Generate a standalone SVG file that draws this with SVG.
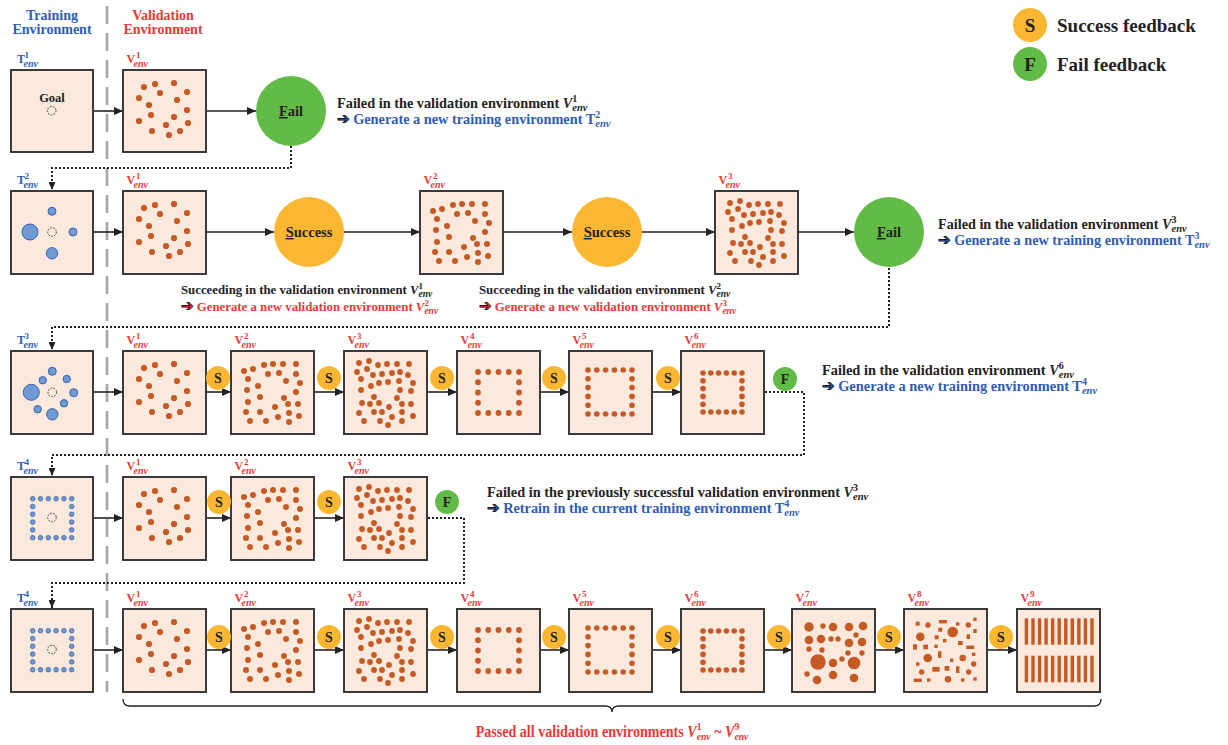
<svg xmlns="http://www.w3.org/2000/svg" width="1228" height="745" viewBox="0 0 1228 745">
<style>
text{font-family:"Liberation Serif","Times New Roman",serif;font-weight:bold}
.box{fill:#FCE9DD;stroke:#3A3A3A;stroke-width:2}
.tl{fill:#2E5CB4;font-size:12px}
.vl{fill:#E83A3A;font-size:12px}
.sp{font-size:9px;font-style:normal}
.sb{font-size:10px;font-style:italic}
.blk{fill:#222}
.blu{fill:#2E5CB4}
.red{fill:#E83A3A}
.ar{stroke:#222;stroke-width:1.6;fill:none;marker-end:url(#ah)}
.dt{stroke:#222;stroke-width:2;fill:none;stroke-dasharray:2,2;marker-end:url(#ah2)}
.goal{fill:none;stroke:#333;stroke-width:1;stroke-dasharray:1.6,1.4}
.bc{fill:#6F9AD6;stroke:#3A62A6;stroke-width:1}
.sc{fill:#FBB731}
.fc{fill:#62BB47}
.ct{font-size:14.5px;fill:#222;text-anchor:middle}
.st{font-size:14px;fill:#222;text-anchor:middle}
.sym{font-family:"DejaVu Sans",sans-serif;font-weight:bold;font-size:15px;stroke:currentColor;stroke-width:0.7}
</style>
<defs>
<marker id="ah" markerUnits="userSpaceOnUse" markerWidth="9" markerHeight="8" refX="9" refY="4" orient="auto"><path d="M0,0L9,4L0,8z" fill="#222"/></marker>
<marker id="ah2" markerUnits="userSpaceOnUse" markerWidth="8" markerHeight="7" refX="8" refY="3.5" orient="auto"><path d="M0,0L8,3.5L0,7z" fill="#222"/></marker>
<g id="p1" fill="#C55A24">
<circle cx="21" cy="17" r="3.1"/><circle cx="32" cy="14" r="3.1"/><circle cx="51" cy="13" r="3.1"/><circle cx="37" cy="23" r="3.1"/><circle cx="64" cy="22" r="3.1"/><circle cx="16" cy="28" r="3.1"/><circle cx="54" cy="30" r="3.1"/><circle cx="26" cy="35" r="3.1"/><circle cx="64" cy="40" r="3.1"/><circle cx="28" cy="45" r="3.1"/><circle cx="51" cy="47" r="3.1"/><circle cx="16" cy="51" r="3.1"/><circle cx="43" cy="55" r="3.1"/><circle cx="65" cy="53" r="3.1"/><circle cx="29" cy="61" r="3.1"/><circle cx="57" cy="61" r="3.1"/><circle cx="46" cy="65" r="3.1"/>
</g>
<g id="p2" fill="#C55A24">
<circle cx="13" cy="20" r="3"/><circle cx="22" cy="18" r="3"/><circle cx="33" cy="14" r="3"/><circle cx="42" cy="13" r="3"/><circle cx="52" cy="13" r="3"/><circle cx="65" cy="13" r="3"/><circle cx="17" cy="28" r="3"/><circle cx="37" cy="23" r="3"/><circle cx="48" cy="22" r="3"/><circle cx="65" cy="23" r="3"/><circle cx="55" cy="30" r="3"/><circle cx="69" cy="32" r="3"/><circle cx="27" cy="35" r="3"/><circle cx="16" cy="39" r="3"/><circle cx="65" cy="41" r="3"/><circle cx="29" cy="46" r="3"/><circle cx="53" cy="47" r="3"/><circle cx="17" cy="51" r="3"/><circle cx="57" cy="53" r="3"/><circle cx="67" cy="53" r="3"/><circle cx="44" cy="56" r="3"/><circle cx="15" cy="61" r="3"/><circle cx="29" cy="61" r="3"/><circle cx="58" cy="62" r="3"/><circle cx="68" cy="65" r="3"/><circle cx="19" cy="70" r="3"/><circle cx="35" cy="70" r="3"/><circle cx="47" cy="66" r="3"/><circle cx="58" cy="71" r="3"/>
</g>
<g id="p3" fill="#C55A24">
<circle cx="15" cy="12" r="2.9"/><circle cx="25" cy="10" r="2.9"/><circle cx="34" cy="14" r="2.9"/><circle cx="43" cy="13" r="2.9"/><circle cx="53" cy="13" r="2.9"/><circle cx="65" cy="13" r="2.9"/><circle cx="13" cy="21" r="2.9"/><circle cx="23" cy="18" r="2.9"/><circle cx="29" cy="24" r="2.9"/><circle cx="38" cy="23" r="2.9"/><circle cx="48" cy="22" r="2.9"/><circle cx="56" cy="21" r="2.9"/><circle cx="64" cy="24" r="2.9"/><circle cx="17" cy="28" r="2.9"/><circle cx="35" cy="32" r="2.9"/><circle cx="44" cy="31" r="2.9"/><circle cx="55" cy="30" r="2.9"/><circle cx="69" cy="32" r="2.9"/><circle cx="27" cy="35" r="2.9"/><circle cx="17" cy="39" r="2.9"/><circle cx="56" cy="39" r="2.9"/><circle cx="67" cy="40" r="2.9"/><circle cx="30" cy="46" r="2.9"/><circle cx="53" cy="47" r="2.9"/><circle cx="18" cy="52" r="2.9"/><circle cx="26" cy="53" r="2.9"/><circle cx="35" cy="52" r="2.9"/><circle cx="45" cy="56" r="2.9"/><circle cx="58" cy="53" r="2.9"/><circle cx="67" cy="53" r="2.9"/><circle cx="15" cy="62" r="2.9"/><circle cx="30" cy="61" r="2.9"/><circle cx="38" cy="61" r="2.9"/><circle cx="48" cy="66" r="2.9"/><circle cx="58" cy="61" r="2.9"/><circle cx="69" cy="65" r="2.9"/><circle cx="20" cy="70" r="2.9"/><circle cx="36" cy="70" r="2.9"/><circle cx="44" cy="74" r="2.9"/><circle cx="58" cy="70" r="2.9"/>
</g>
<g id="p4" fill="#C55A24">
<circle cx="21" cy="21" r="2.9"/><circle cx="31.25" cy="21" r="2.9"/><circle cx="41.5" cy="21" r="2.9"/><circle cx="51.75" cy="21" r="2.9"/><circle cx="62" cy="21" r="2.9"/>
<circle cx="21" cy="62" r="2.9"/><circle cx="31.25" cy="62" r="2.9"/><circle cx="41.5" cy="62" r="2.9"/><circle cx="51.75" cy="62" r="2.9"/><circle cx="62" cy="62" r="2.9"/>
<circle cx="21" cy="31.25" r="2.9"/><circle cx="21" cy="41.5" r="2.9"/><circle cx="21" cy="51.75" r="2.9"/>
<circle cx="62" cy="31.25" r="2.9"/><circle cx="62" cy="41.5" r="2.9"/><circle cx="62" cy="51.75" r="2.9"/>
</g>
<g id="p5" fill="#C55A24">
<circle cx="19" cy="19" r="2.8"/><circle cx="27.8" cy="19" r="2.8"/><circle cx="36.6" cy="19" r="2.8"/><circle cx="45.4" cy="19" r="2.8"/><circle cx="54.2" cy="19" r="2.8"/><circle cx="63" cy="19" r="2.8"/>
<circle cx="19" cy="63" r="2.8"/><circle cx="27.8" cy="63" r="2.8"/><circle cx="36.6" cy="63" r="2.8"/><circle cx="45.4" cy="63" r="2.8"/><circle cx="54.2" cy="63" r="2.8"/><circle cx="63" cy="63" r="2.8"/>
<circle cx="19" cy="27.8" r="2.8"/><circle cx="19" cy="36.6" r="2.8"/><circle cx="19" cy="45.4" r="2.8"/><circle cx="19" cy="54.2" r="2.8"/>
<circle cx="63" cy="27.8" r="2.8"/><circle cx="63" cy="36.6" r="2.8"/><circle cx="63" cy="45.4" r="2.8"/><circle cx="63" cy="54.2" r="2.8"/>
</g>
<g id="p6" fill="#C55A24">
<circle cx="22" cy="22" r="2.8"/><circle cx="29.8" cy="22" r="2.8"/><circle cx="37.6" cy="22" r="2.8"/><circle cx="45.4" cy="22" r="2.8"/><circle cx="53.2" cy="22" r="2.8"/><circle cx="61" cy="22" r="2.8"/>
<circle cx="22" cy="61" r="2.8"/><circle cx="29.8" cy="61" r="2.8"/><circle cx="37.6" cy="61" r="2.8"/><circle cx="45.4" cy="61" r="2.8"/><circle cx="53.2" cy="61" r="2.8"/><circle cx="61" cy="61" r="2.8"/>
<circle cx="22" cy="29.8" r="2.8"/><circle cx="22" cy="37.6" r="2.8"/><circle cx="22" cy="45.4" r="2.8"/><circle cx="22" cy="53.2" r="2.8"/>
<circle cx="61" cy="29.8" r="2.8"/><circle cx="61" cy="37.6" r="2.8"/><circle cx="61" cy="45.4" r="2.8"/><circle cx="61" cy="53.2" r="2.8"/>
</g>
<g id="p7" fill="#C55A24">
<circle cx="17" cy="18" r="4.7"/><circle cx="31" cy="17" r="2.7"/><circle cx="41" cy="18" r="4.3"/><circle cx="57" cy="18" r="4.3"/><circle cx="71" cy="17" r="4.3"/><circle cx="17" cy="31" r="4.3"/><circle cx="29" cy="30" r="4.3"/><circle cx="39" cy="30" r="2.7"/><circle cx="46" cy="30" r="2.7"/><circle cx="64" cy="26" r="2.7"/><circle cx="57" cy="34" r="4.3"/><circle cx="70" cy="33" r="4.3"/><circle cx="17" cy="40" r="2.7"/><circle cx="30" cy="41" r="2.7"/><circle cx="56" cy="44" r="2.7"/><circle cx="70" cy="44" r="2.7"/><circle cx="50" cy="50" r="2.7"/><circle cx="26" cy="53" r="7.7"/><circle cx="41" cy="54" r="4.3"/><circle cx="62" cy="54" r="6.3"/><circle cx="15" cy="65" r="2.7"/><circle cx="41" cy="66" r="4.3"/><circle cx="62" cy="69" r="4.3"/><circle cx="25" cy="71" r="4.3"/>
</g>
<g id="p8" fill="#C55A24">
<rect x="11.7" y="12.7" width="4" height="4"/><circle cx="24" cy="16" r="2.7"/><rect x="35" y="11" width="8" height="3.4"/><rect x="52" y="13.3" width="3.4" height="3.4"/><circle cx="64.3" cy="16" r="2.7"/><rect x="69.3" y="8.6" width="3.4" height="3.4"/>
<circle cx="16.3" cy="27.7" r="4.3"/><rect x="34.3" y="18.7" width="4" height="4"/><circle cx="48.7" cy="23" r="5.3"/><rect x="69.3" y="20" width="3.4" height="4"/><rect x="30.7" y="26.3" width="4" height="4"/><rect x="39" y="30" width="3.4" height="3.4"/><rect x="54" y="32" width="4.7" height="4"/><rect x="62.6" y="25.3" width="3.4" height="4.7"/>
<rect x="9" y="35.3" width="4" height="5.3"/><rect x="19.3" y="35.6" width="4.7" height="4.7"/><rect x="30.3" y="35.6" width="3.4" height="3.4"/><rect x="62.3" y="36.6" width="8" height="3.4"/>
<rect x="34" y="42.3" width="3.4" height="6.7"/><circle cx="23.7" cy="49" r="4.3"/><rect x="46" y="49.6" width="3.4" height="3.4"/><circle cx="58.7" cy="49" r="3.3"/><rect x="68" y="43.6" width="3.4" height="3.4"/>
<rect x="12" y="53.3" width="3.4" height="3.4"/><circle cx="69.7" cy="55" r="2.7"/><rect x="28.3" y="58" width="7.3" height="4.7"/><rect x="40.6" y="57" width="4.7" height="4.7"/><rect x="52" y="57.3" width="3.4" height="6.7"/><circle cx="17.7" cy="63" r="2.7"/><circle cx="64.7" cy="63" r="2.7"/>
<rect x="9.7" y="69.6" width="8" height="3.4"/><rect x="23" y="69.3" width="3.4" height="3.4"/><circle cx="44" cy="70.3" r="3.3"/><rect x="57" y="69.3" width="3.4" height="3.4"/><rect x="69.3" y="68.3" width="3.4" height="3.4"/>
</g>
<g id="p9" fill="#C55A24">
<rect x="7.7" y="9.3" width="3.4" height="26.4"/><rect x="14.26" y="9.3" width="3.4" height="26.4"/><rect x="20.82" y="9.3" width="3.4" height="26.4"/><rect x="27.38" y="9.3" width="3.4" height="26.4"/><rect x="33.94" y="9.3" width="3.4" height="26.4"/><rect x="40.5" y="9.3" width="3.4" height="26.4"/><rect x="47.06" y="9.3" width="3.4" height="26.4"/><rect x="53.62" y="9.3" width="3.4" height="26.4"/><rect x="60.18" y="9.3" width="3.4" height="26.4"/><rect x="66.74" y="9.3" width="3.4" height="26.4"/><rect x="73.3" y="9.3" width="3.4" height="26.4"/>
<rect x="7.7" y="46.7" width="3.4" height="26.6"/><rect x="14.26" y="46.7" width="3.4" height="26.6"/><rect x="20.82" y="46.7" width="3.4" height="26.6"/><rect x="27.38" y="46.7" width="3.4" height="26.6"/><rect x="33.94" y="46.7" width="3.4" height="26.6"/><rect x="40.5" y="46.7" width="3.4" height="26.6"/><rect x="47.06" y="46.7" width="3.4" height="26.6"/><rect x="53.62" y="46.7" width="3.4" height="26.6"/><rect x="60.18" y="46.7" width="3.4" height="26.6"/><rect x="66.74" y="46.7" width="3.4" height="26.6"/><rect x="73.3" y="46.7" width="3.4" height="26.6"/>
</g>
<g id="pT4">
<g class="bc" style="stroke-width:0.8">
<circle cx="21.7" cy="21.7" r="2.3"/><circle cx="29.5" cy="21.7" r="2.3"/><circle cx="37.3" cy="21.7" r="2.3"/><circle cx="45.1" cy="21.7" r="2.3"/><circle cx="52.9" cy="21.7" r="2.3"/><circle cx="60.7" cy="21.7" r="2.3"/>
<circle cx="21.7" cy="60.7" r="2.3"/><circle cx="29.5" cy="60.7" r="2.3"/><circle cx="37.3" cy="60.7" r="2.3"/><circle cx="45.1" cy="60.7" r="2.3"/><circle cx="52.9" cy="60.7" r="2.3"/><circle cx="60.7" cy="60.7" r="2.3"/>
<circle cx="21.7" cy="29.5" r="2.3"/><circle cx="21.7" cy="37.3" r="2.3"/><circle cx="21.7" cy="45.1" r="2.3"/><circle cx="21.7" cy="52.9" r="2.3"/>
<circle cx="60.7" cy="29.5" r="2.3"/><circle cx="60.7" cy="37.3" r="2.3"/><circle cx="60.7" cy="45.1" r="2.3"/><circle cx="60.7" cy="52.9" r="2.3"/>
</g>
<circle class="goal" cx="41" cy="40.5" r="4.3"/>
</g>
</defs>

<rect width="1228" height="745" fill="#FFFFFF"/>

<!-- headers -->
<g id="headers">
<text x="52" y="20" font-size="14" class="blu" text-anchor="middle">Training</text>
<text x="52" y="34" font-size="14" class="blu" text-anchor="middle">Environment</text>
<text x="163" y="20" font-size="14" class="red" text-anchor="middle">Validation</text>
<text x="163" y="34" font-size="14" class="red" text-anchor="middle">Environment</text>
<path d="M107,6V692" stroke="#A6A6A6" stroke-width="2.6" stroke-dasharray="18,9" fill="none"/>
</g>

<!-- legend -->
<g id="legend-success">
<circle class="sc" cx="1030" cy="25" r="17"/>
<text x="1030" y="31.5" font-size="19" class="blk" text-anchor="middle">S</text>
<text x="1057" y="32" font-size="19" class="blk">Success feedback</text>
</g>
<g id="legend-fail">
<circle class="fc" cx="1030" cy="64" r="17"/>
<text x="1030" y="70.5" font-size="19" class="blk" text-anchor="middle">F</text>
<text x="1057" y="71" font-size="19" class="blk">Fail feedback</text>
</g>

<!-- connectors -->
<g id="connectors">
<path class="ar" d="M93,111H123"/>
<path class="ar" d="M206,111H256"/>
<path class="dt" d="M291,146V168H52V190"/>
<path class="ar" d="M93,232H123"/>
<path class="ar" d="M206,232H274"/>
<path class="ar" d="M344,232H420"/>
<path class="ar" d="M503,232H572"/>
<path class="ar" d="M642,232H715"/>
<path class="ar" d="M798,232H854"/>
<path class="dt" d="M889,268V327H52V350"/>
<path class="ar" d="M93,392H123"/>
<path class="ar" d="M206,392H231"/>
<path class="ar" d="M314,392H344"/>
<path class="ar" d="M427,392H457"/>
<path class="ar" d="M540,392H569"/>
<path class="ar" d="M652,392H681"/>
<path class="dt" d="M765,392H804V455H52V476"/>
<path class="ar" d="M93,518H123"/>
<path class="ar" d="M206,518H231"/>
<path class="ar" d="M314,518H344"/>
<path class="dt" d="M428,518H464V583H52V608"/>
<path class="ar" d="M93,650H123"/>
<path class="ar" d="M206,650H231"/>
<path class="ar" d="M314,650H344"/>
<path class="ar" d="M427,650H457"/>
<path class="ar" d="M540,650H569"/>
<path class="ar" d="M652,650H681"/>
<path class="ar" d="M764,650H792"/>
<path class="ar" d="M875,650H904"/>
<path class="ar" d="M987,650H1017"/>
</g>

<!-- Row 1 -->
<g id="r1-T1" transform="translate(11,70)">
<rect class="box" width="82" height="82"/>
<text x="41" y="32" font-size="12.5" class="blk" text-anchor="middle">Goal</text>
<circle class="goal" cx="40.7" cy="40.7" r="4.3"/>
<text class="tl" x="6" y="-7">T<tspan class="sp" x="13.5" y="-12">1</tspan><tspan class="sb" x="12.5" y="-3">env</tspan></text>
</g>
<g id="r1-V1" transform="translate(123,70)">
<rect class="box" width="83" height="82"/>
<use href="#p1"/>
<text class="vl" x="3.5" y="-7">V<tspan class="sp" x="13" y="-12">1</tspan><tspan class="sb" x="10.5" y="-3">env</tspan></text>
</g>
<g id="r1-fail">
<circle class="fc" cx="291" cy="111" r="35"/>
<text class="ct" x="291" y="116"><tspan text-decoration="underline">F</tspan>ail</text>
</g>
<g id="r1-note">
<text x="337" y="108" font-size="14.3" class="blk">Failed in the validation environment <tspan font-style="italic">V</tspan><tspan font-size="10" dy="-6">1</tspan><tspan font-size="10.5" font-style="italic" dx="-5" dy="9">env</tspan></text>
<text x="337" y="124" font-size="14.3" class="blu"><tspan class="sym">➔</tspan> Generate a new training environment T<tspan font-size="10" dy="-6">2</tspan><tspan font-size="10.5" font-style="italic" dx="-5" dy="9">env</tspan></text>
</g>

<!-- Row 2 -->
<g id="r2-T2" transform="translate(11,191)">
<rect class="box" width="82" height="83"/>
<circle class="bc" cx="41" cy="20.3" r="4"/>
<circle class="bc" cx="19" cy="41" r="8"/>
<circle class="goal" cx="41" cy="41" r="4.3"/>
<circle class="bc" cx="62" cy="41" r="4"/>
<circle class="bc" cx="41" cy="62.3" r="5.7"/>
<text class="tl" x="6" y="-7">T<tspan class="sp" x="13.5" y="-12">2</tspan><tspan class="sb" x="12.5" y="-3">env</tspan></text>
</g>
<g id="r2-V1" transform="translate(123,191)">
<rect class="box" width="83" height="83"/>
<use href="#p1"/>
<text class="vl" x="3.5" y="-7">V<tspan class="sp" x="13" y="-12">1</tspan><tspan class="sb" x="10.5" y="-3">env</tspan></text>
</g>
<g id="r2-success1">
<circle class="sc" cx="309" cy="232" r="35"/>
<text class="ct" x="309" y="237"><tspan text-decoration="underline">S</tspan>uccess</text>
</g>
<g id="r2-V2" transform="translate(420,191)">
<rect class="box" width="83" height="83"/>
<use href="#p2"/>
<text class="vl" x="3.5" y="-7">V<tspan class="sp" x="13" y="-12">2</tspan><tspan class="sb" x="10.5" y="-3">env</tspan></text>
</g>
<g id="r2-success2">
<circle class="sc" cx="607" cy="232" r="35"/>
<text class="ct" x="607" y="237"><tspan text-decoration="underline">S</tspan>uccess</text>
</g>
<g id="r2-V3" transform="translate(715,191)">
<rect class="box" width="83" height="83"/>
<use href="#p3"/>
<text class="vl" x="3.5" y="-7">V<tspan class="sp" x="13" y="-12">3</tspan><tspan class="sb" x="10.5" y="-3">env</tspan></text>
</g>
<g id="r2-fail">
<circle class="fc" cx="889" cy="232" r="35"/>
<text class="ct" x="889" y="237"><tspan text-decoration="underline">F</tspan>ail</text>
</g>
<g id="r2-notes">
<text x="181" y="294" font-size="12.8" class="blk">Succeeding in the validation environment <tspan font-style="italic">V</tspan><tspan font-size="9" dy="-5.5">1</tspan><tspan font-size="9.5" font-style="italic" dx="-4.5" dy="8">env</tspan></text>
<text x="181" y="311" font-size="12.8" class="red"><tspan class="sym">➔</tspan> Generate a new validation environment <tspan font-style="italic">V</tspan><tspan font-size="9" dy="-5">2</tspan><tspan font-size="9.5" font-style="italic" dx="-4.5" dy="8">env</tspan></text>
<text x="479" y="294" font-size="12.8" class="blk">Succeeding in the validation environment <tspan font-style="italic">V</tspan><tspan font-size="9" dy="-5.5">2</tspan><tspan font-size="9.5" font-style="italic" dx="-4.5" dy="8">env</tspan></text>
<text x="479" y="311" font-size="12.8" class="red"><tspan class="sym">➔</tspan> Generate a new validation environment <tspan font-style="italic">V</tspan><tspan font-size="9" dy="-5">3</tspan><tspan font-size="9.5" font-style="italic" dx="-4.5" dy="8">env</tspan></text>
<text x="938" y="229" font-size="14.2" class="blk">Failed in the validation environment <tspan font-style="italic">V</tspan><tspan font-size="10" dy="-6">3</tspan><tspan font-size="10.5" font-style="italic" dx="-5" dy="9">env</tspan></text>
<text x="938" y="245" font-size="14.2" class="blu"><tspan class="sym">➔</tspan> Generate a new training environment T<tspan font-size="10" dy="-6">3</tspan><tspan font-size="10.5" font-style="italic" dx="-5" dy="9">env</tspan></text>
</g>

<!-- Row 3 -->
<g id="r3-T3" transform="translate(11,351)">
<rect class="box" width="82" height="83"/>
<circle class="bc" cx="41.3" cy="20.3" r="4"/>
<circle class="bc" cx="31.7" cy="29.3" r="3.7"/>
<circle class="bc" cx="55.7" cy="28" r="3.7"/>
<circle class="bc" cx="20.3" cy="41.3" r="8"/>
<circle class="goal" cx="41.3" cy="41.3" r="4.3"/>
<circle class="bc" cx="62.7" cy="41.7" r="4"/>
<circle class="bc" cx="53" cy="52.3" r="3.7"/>
<circle class="bc" cx="26.7" cy="58.3" r="3.7"/>
<circle class="bc" cx="41.3" cy="63.3" r="5.7"/>
<text class="tl" x="6" y="-7">T<tspan class="sp" x="13.5" y="-12">3</tspan><tspan class="sb" x="12.5" y="-3">env</tspan></text>
</g>
<g id="r3-V1" transform="translate(123,351)"><rect class="box" width="83" height="83"/><use href="#p1"/>
<text class="vl" x="3.5" y="-7">V<tspan class="sp" x="13" y="-12">1</tspan><tspan class="sb" x="10.5" y="-3">env</tspan></text></g>
<g id="r3-V2" transform="translate(231,351)"><rect class="box" width="83" height="83"/><use href="#p2"/>
<text class="vl" x="3.5" y="-7">V<tspan class="sp" x="13" y="-12">2</tspan><tspan class="sb" x="10.5" y="-3">env</tspan></text></g>
<g id="r3-V3" transform="translate(344,351)"><rect class="box" width="83" height="83"/><use href="#p3"/>
<text class="vl" x="3.5" y="-7">V<tspan class="sp" x="13" y="-12">3</tspan><tspan class="sb" x="10.5" y="-3">env</tspan></text></g>
<g id="r3-V4" transform="translate(457,351)"><rect class="box" width="83" height="83"/><use href="#p4"/>
<text class="vl" x="3.5" y="-7">V<tspan class="sp" x="13" y="-12">4</tspan><tspan class="sb" x="10.5" y="-3">env</tspan></text></g>
<g id="r3-V5" transform="translate(569,351)"><rect class="box" width="83" height="83"/><use href="#p5"/>
<text class="vl" x="3.5" y="-7">V<tspan class="sp" x="13" y="-12">5</tspan><tspan class="sb" x="10.5" y="-3">env</tspan></text></g>
<g id="r3-V6" transform="translate(681,351)"><rect class="box" width="83" height="83"/><use href="#p6"/>
<text class="vl" x="3.5" y="-7">V<tspan class="sp" x="13" y="-12">6</tspan><tspan class="sb" x="10.5" y="-3">env</tspan></text></g>
<g id="r3-fb">
<circle class="sc" cx="218" cy="378" r="12"/><text class="st" x="218" y="383">S</text>
<circle class="sc" cx="329" cy="378" r="12"/><text class="st" x="329" y="383">S</text>
<circle class="sc" cx="442" cy="378" r="12"/><text class="st" x="442" y="383">S</text>
<circle class="sc" cx="554" cy="378" r="12"/><text class="st" x="554" y="383">S</text>
<circle class="sc" cx="668" cy="378" r="12"/><text class="st" x="668" y="383">S</text>
<circle class="fc" cx="785" cy="379" r="12"/><text class="st" x="785" y="384">F</text>
</g>
<g id="r3-note">
<text x="822" y="375" font-size="14.4" class="blk">Failed in the validation environment <tspan font-style="italic">V</tspan><tspan font-size="10" dy="-6">6</tspan><tspan font-size="10.5" font-style="italic" dx="-5" dy="9">env</tspan></text>
<text x="822" y="391" font-size="14.4" class="blu"><tspan class="sym">➔</tspan> Generate a new training environment T<tspan font-size="10" dy="-6">4</tspan><tspan font-size="10.5" font-style="italic" dx="-5" dy="9">env</tspan></text>
</g>

<!-- Row 4 -->
<g id="r4-T4" transform="translate(11,477)"><rect class="box" width="82" height="83"/><use href="#pT4"/>
<text class="tl" x="6" y="-7">T<tspan class="sp" x="13.5" y="-12">4</tspan><tspan class="sb" x="12.5" y="-3">env</tspan></text></g>
<g id="r4-V1" transform="translate(123,477)"><rect class="box" width="83" height="83"/><use href="#p1"/>
<text class="vl" x="3.5" y="-7">V<tspan class="sp" x="13" y="-12">1</tspan><tspan class="sb" x="10.5" y="-3">env</tspan></text></g>
<g id="r4-V2" transform="translate(231,477)"><rect class="box" width="83" height="83"/><use href="#p2"/>
<text class="vl" x="3.5" y="-7">V<tspan class="sp" x="13" y="-12">2</tspan><tspan class="sb" x="10.5" y="-3">env</tspan></text></g>
<g id="r4-V3" transform="translate(344,477)"><rect class="box" width="83" height="83"/><use href="#p3"/>
<text class="vl" x="3.5" y="-7">V<tspan class="sp" x="13" y="-12">3</tspan><tspan class="sb" x="10.5" y="-3">env</tspan></text></g>
<g id="r4-fb">
<circle class="sc" cx="219" cy="502" r="12"/><text class="st" x="219" y="507">S</text>
<circle class="sc" cx="329" cy="502" r="12"/><text class="st" x="329" y="507">S</text>
<circle class="fc" cx="447" cy="502" r="12"/><text class="st" x="447" y="507">F</text>
</g>
<g id="r4-note">
<text x="487" y="497" font-size="14.3" class="blk">Failed in the previously successful validation environment <tspan font-style="italic">V</tspan><tspan font-size="10" dy="-6">3</tspan><tspan font-size="10.5" font-style="italic" dx="-5" dy="9">env</tspan></text>
<text x="487" y="513" font-size="14.3" class="blu"><tspan class="sym">➔</tspan> Retrain in the current training environment T<tspan font-size="10" dy="-6">4</tspan><tspan font-size="10.5" font-style="italic" dx="-5" dy="9">env</tspan></text>
</g>

<!-- Row 5 -->
<g id="r5-T4" transform="translate(11,609)"><rect class="box" width="82" height="83"/><use href="#pT4"/>
<text class="tl" x="6" y="-7">T<tspan class="sp" x="13.5" y="-12">4</tspan><tspan class="sb" x="12.5" y="-3">env</tspan></text></g>
<g id="r5-V1" transform="translate(123,609)"><rect class="box" width="83" height="83"/><use href="#p1"/>
<text class="vl" x="3.5" y="-7">V<tspan class="sp" x="13" y="-12">1</tspan><tspan class="sb" x="10.5" y="-3">env</tspan></text></g>
<g id="r5-V2" transform="translate(231,609)"><rect class="box" width="83" height="83"/><use href="#p2"/>
<text class="vl" x="3.5" y="-7">V<tspan class="sp" x="13" y="-12">2</tspan><tspan class="sb" x="10.5" y="-3">env</tspan></text></g>
<g id="r5-V3" transform="translate(344,609)"><rect class="box" width="83" height="83"/><use href="#p3"/>
<text class="vl" x="3.5" y="-7">V<tspan class="sp" x="13" y="-12">3</tspan><tspan class="sb" x="10.5" y="-3">env</tspan></text></g>
<g id="r5-V4" transform="translate(457,609)"><rect class="box" width="83" height="83"/><use href="#p4"/>
<text class="vl" x="3.5" y="-7">V<tspan class="sp" x="13" y="-12">4</tspan><tspan class="sb" x="10.5" y="-3">env</tspan></text></g>
<g id="r5-V5" transform="translate(569,609)"><rect class="box" width="83" height="83"/><use href="#p5"/>
<text class="vl" x="3.5" y="-7">V<tspan class="sp" x="13" y="-12">5</tspan><tspan class="sb" x="10.5" y="-3">env</tspan></text></g>
<g id="r5-V6" transform="translate(681,609)"><rect class="box" width="83" height="83"/><use href="#p6"/>
<text class="vl" x="3.5" y="-7">V<tspan class="sp" x="13" y="-12">6</tspan><tspan class="sb" x="10.5" y="-3">env</tspan></text></g>
<g id="r5-V7" transform="translate(792,609)"><rect class="box" width="83" height="83"/><use href="#p7"/>
<text class="vl" x="3.5" y="-7">V<tspan class="sp" x="13" y="-12">7</tspan><tspan class="sb" x="10.5" y="-3">env</tspan></text></g>
<g id="r5-V8" transform="translate(904,609)"><rect class="box" width="83" height="83"/><use href="#p8"/>
<text class="vl" x="3.5" y="-7">V<tspan class="sp" x="13" y="-12">8</tspan><tspan class="sb" x="10.5" y="-3">env</tspan></text></g>
<g id="r5-V9" transform="translate(1017,609)"><rect class="box" width="83" height="83"/><use href="#p9"/>
<text class="vl" x="3.5" y="-7">V<tspan class="sp" x="13" y="-12">9</tspan><tspan class="sb" x="10.5" y="-3">env</tspan></text></g>
<g id="r5-fb">
<circle class="sc" cx="219" cy="637" r="12"/><text class="st" x="219" y="642">S</text>
<circle class="sc" cx="329" cy="637" r="12"/><text class="st" x="329" y="642">S</text>
<circle class="sc" cx="442" cy="637" r="12"/><text class="st" x="442" y="642">S</text>
<circle class="sc" cx="554" cy="637" r="12"/><text class="st" x="554" y="642">S</text>
<circle class="sc" cx="668" cy="637" r="12"/><text class="st" x="668" y="642">S</text>
<circle class="sc" cx="779" cy="637" r="12"/><text class="st" x="779" y="642">S</text>
<circle class="sc" cx="889" cy="637" r="12"/><text class="st" x="889" y="642">S</text>
<circle class="sc" cx="1001" cy="637" r="12"/><text class="st" x="1001" y="642">S</text>
</g>

<!-- brace and summary -->
<g id="summary">
<path d="M123,699Q123,706 130,706H605Q612,706 612,712Q612,706 619,706H1094Q1101,706 1101,699" stroke="#222" stroke-width="1.3" fill="none"/>
<text transform="translate(612,737) scale(0.88,1)" text-anchor="middle" font-size="16" class="red">Passed all validation environments <tspan font-style="italic">V</tspan><tspan font-size="11" dy="-7">1</tspan><tspan font-size="11" font-style="italic" dx="-5.5" dy="10">env</tspan><tspan dy="-3"> ~ </tspan><tspan font-style="italic">V</tspan><tspan font-size="11" dy="-7">9</tspan><tspan font-size="11" font-style="italic" dx="-5.5" dy="10">env</tspan></text>
</g>
</svg>
